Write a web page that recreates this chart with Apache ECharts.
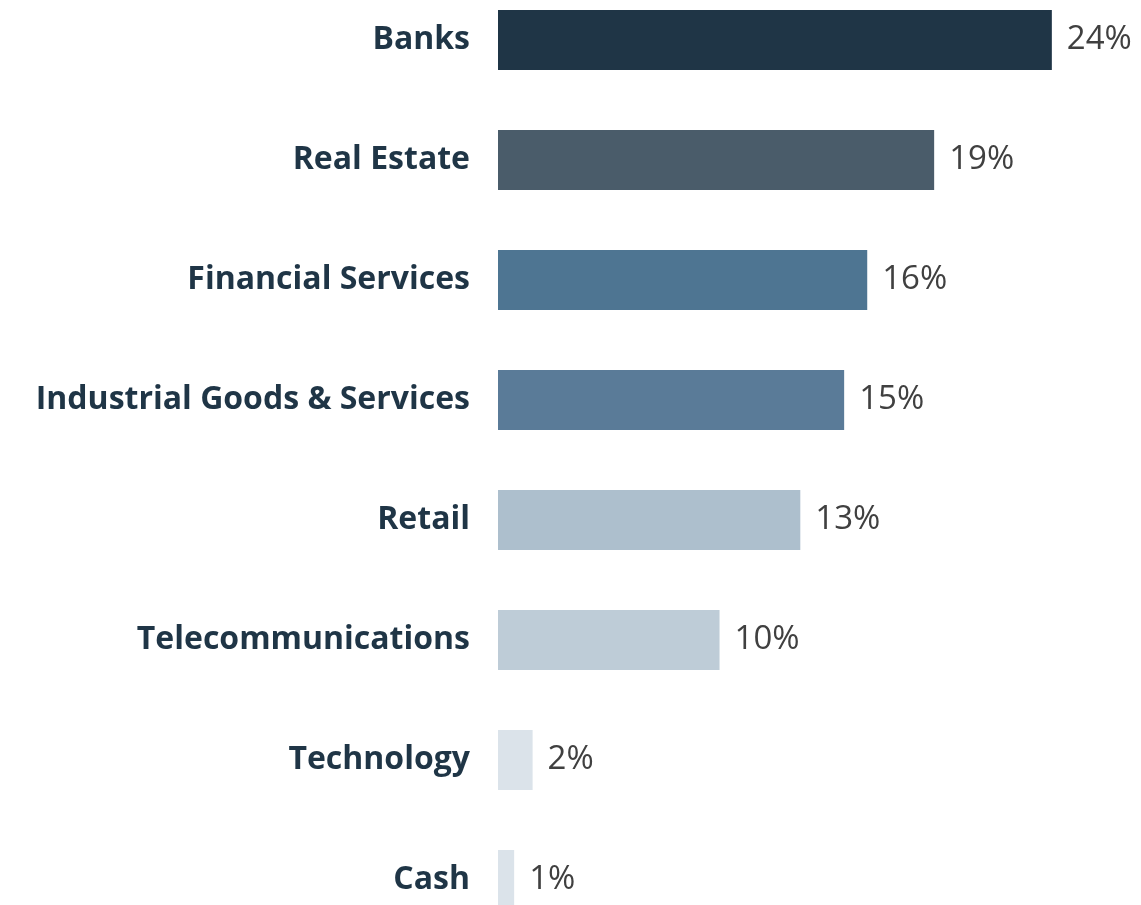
<!DOCTYPE html>
<html>
<head>
<meta charset="utf-8">
<script src="https://cdn.jsdelivr.net/npm/echarts@6/dist/echarts.min.js"></script>
<style>
  html, body { margin: 0; padding: 0; background: #fff; }
  #chart { width: 1141px; height: 905px; }
</style>
</head>
<body>
<div id="chart"></div>
<script>
// sector weights (labels are the rounded figures shown)
const sectors = ['Banks', 'Real Estate', 'Financial Services', 'Industrial Goods & Services',
  'Retail', 'Telecommunications', 'Technology', 'Cash']
const weights = [24.0, 18.9, 16.0, 15.0, 13.1, 9.6, 1.5, 0.7]
const weightLabels = ['24%', '19%', '16%', '15%', '13%', '10%', '2%', '1%']
const barColors = ['#1f3546', '#4a5c6a', '#4e7592', '#5a7b98', '#adbfcd', '#beccd7', '#dbe3ea', '#dbe3ea']

const chart = echarts.init(document.getElementById('chart'))

chart.setOption({
  animation: false,
  grid: {
    left: 498,
    right: 43,
    top: -20,
    height: 960,
    outerBoundsMode: 'none'
  },
  xAxis: {
    type: 'value',
    min: 0,
    max: 26,
    show: false
  },
  yAxis: {
    type: 'category',
    inverse: true,
    data: sectors,
    axisLine: { show: false },
    axisTick: { show: false },
    axisLabel: {
      margin: 28,
      color: '#1f3546',
      fontSize: 32,
      fontWeight: 'bold',
      fontFamily: 'Open Sans'
    }
  },
  series: [{
    type: 'bar',
    barWidth: 60,
    data: weights.map((v, i) => ({
      value: v,
      itemStyle: { color: barColors[i] }
    })),
    label: {
      show: true,
      position: 'right',
      distance: 15,
      color: '#404040',
      fontSize: 33,
      fontFamily: 'Open Sans',
      formatter: p => weightLabels[p.dataIndex]
    }
  }]
})
</script>
</body>
</html>
